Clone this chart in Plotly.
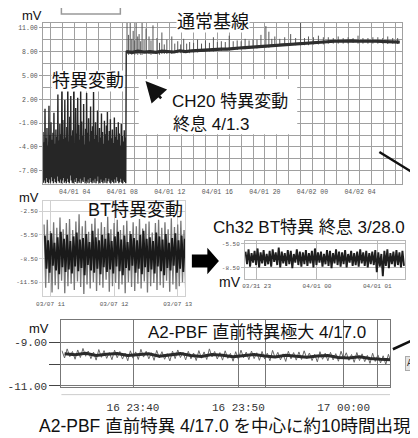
import pandas as pd
import plotly.graph_objects as go

# ---------------- data ----------------
# CH20 (panel 1): noisy anomaly before the jump (hi/lo envelope every 5 min)
ch20_pre_start = "2000-04-01 01:20"
ch20_pre_step_s = 300
ch20_pre_hi = [-2.1, -3.4, 0.8, -2.9, -1.6, -3.8, 1.2, -2.5, -0.9, -3.1,
               -2.2, 0.3, -3.6, -1.8, -2.7, 2.6, -3.2, -1.1, -2.4, 3.1,
               -0.6, -3.0, 1.9, -2.8, -1.5, 4.2, -3.3, -0.2, 2.4, -2.6,
               -1.9, 3.0, -3.5, 0.9, -2.3, 2.2, -1.2, -3.1, 3.4, -0.8,
               -2.6, 1.4, -3.7, -1.7, 2.8, -2.2, -0.4, -3.3, 1.1, -2.0,
               -1.4, 2.9, -3.0, -0.9, -2.5, 0.6, -3.4, -1.6, -2.8, 0.2,
               -2.1, -3.6, -0.7, -2.4, -1.3, 0.4, -3.2, -2.0, -0.5, -2.9,
               -1.8, -3.5, -0.3, -2.7, -1.5, -3.1, -0.9, -2.3, -3.8, -1.1,
               -2.6, -3.3, -1.9, -2.8]
ch20_pre_lo = [-8.5, -8.2, -8.6, -7.9, -8.4, -8.6, -8.1, -8.5, -7.8, -8.3,
               -8.6, -8.0, -8.4, -8.6, -7.7, -8.3, -8.5, -8.1, -8.6, -8.2,
               -7.9, -8.5, -8.3, -8.6, -8.0, -8.4, -8.6, -7.6, -8.2, -8.5,
               -8.6, -8.1, -8.4, -7.9, -8.6, -8.3, -8.5, -8.0, -8.6, -8.2,
               -8.4, -7.8, -8.6, -8.3, -8.5, -8.1, -8.6, -7.9, -8.4, -8.6,
               -8.2, -8.5, -8.0, -8.6, -8.3, -7.7, -8.5, -8.6, -8.1, -8.4,
               -8.6, -8.2, -8.5, -7.9, -8.6, -8.3, -8.0, -8.5, -8.6, -8.2,
               -8.4, -8.6, -8.1, -8.5, -7.8, -8.3, -8.6, -8.4, -8.0, -8.5,
               -8.6, -8.2, -8.4, -8.6]
# CH20 normal baseline after the jump (every 30 min)
ch20_base_start = "2000-04-01 08:20"
ch20_base_step_s = 1800
ch20_base = [8.0, 7.9, 8.05, 7.95, 8.0, 7.9, 8.05, 8.0, 7.95, 8.1,
             8.0, 8.1, 8.15, 8.1, 8.2, 8.25, 8.3, 8.3, 8.4, 8.45,
             8.5, 8.55, 8.6, 8.7, 8.75, 8.8, 8.9, 8.95, 9.0, 9.05,
             9.1, 9.1, 9.15, 9.2, 9.25, 9.3, 9.3, 9.35, 9.35, 9.3,
             9.35, 9.3, 9.3, 9.25, 9.3, 9.25, 9.2]
# CH20 spikes / hairs on the baseline
ch20_spike_times = ["2000-04-01 08:24", "2000-04-01 08:32", "2000-04-01 08:40", "2000-04-01 08:48",
                    "2000-04-01 08:55", "2000-04-01 09:03", "2000-04-01 09:10", "2000-04-01 09:18",
                    "2000-04-01 09:25", "2000-04-01 09:33", "2000-04-01 09:40", "2000-04-01 09:50",
                    "2000-04-01 10:00", "2000-04-01 10:15", "2000-04-01 10:25", "2000-04-01 10:35",
                    "2000-04-01 10:55", "2000-04-01 11:08", "2000-04-01 11:20", "2000-04-01 11:32",
                    "2000-04-01 11:45", "2000-04-01 12:10", "2000-04-01 12:25", "2000-04-01 12:40",
                    "2000-04-01 12:55", "2000-04-01 13:10", "2000-04-01 13:25", "2000-04-01 13:40",
                    "2000-04-01 14:00", "2000-04-01 14:20", "2000-04-01 14:40", "2000-04-01 15:00",
                    "2000-04-01 15:20", "2000-04-01 15:40", "2000-04-01 16:00", "2000-04-01 16:20",
                    "2000-04-01 16:40", "2000-04-01 17:00", "2000-04-01 17:20", "2000-04-01 17:40",
                    "2000-04-01 18:00", "2000-04-01 18:20", "2000-04-01 18:40", "2000-04-01 19:00",
                    "2000-04-01 19:20", "2000-04-01 19:40", "2000-04-01 20:05", "2000-04-01 20:20",
                    "2000-04-01 20:35", "2000-04-01 20:50", "2000-04-01 21:15", "2000-04-01 21:40",
                    "2000-04-01 22:10", "2000-04-01 22:35", "2000-04-01 23:00", "2000-04-01 23:20",
                    "2000-04-01 23:40", "2000-04-02 00:05", "2000-04-02 00:30", "2000-04-02 00:55",
                    "2000-04-02 01:20", "2000-04-02 01:45", "2000-04-02 02:10", "2000-04-02 02:35",
                    "2000-04-02 03:00", "2000-04-02 03:25", "2000-04-02 03:50", "2000-04-02 04:15",
                    "2000-04-02 04:40", "2000-04-02 05:05", "2000-04-02 05:30", "2000-04-02 05:55",
                    "2000-04-02 06:20", "2000-04-02 06:45", "2000-04-02 07:10"]
ch20_spike_lo = [7.7, 7.6, 7.7, 7.6, 7.7, 7.6, 7.7, 7.6, 7.7, 7.6, 7.6, 7.7,
                 7.7, 7.7, 7.6, 7.7, 7.7, 7.6, 7.7, 7.7, 7.7, 7.7, 7.8, 7.8,
                 7.8, 7.8, 7.9, 7.8, 7.9, 7.9, 8.0, 8.0, 8.0, 8.0, 8.1, 8.1,
                 8.2, 8.2, 8.2, 8.2, 8.3, 8.3, 8.4, 8.4, 8.4, 8.5, 8.5, 8.5,
                 8.6, 8.6, 8.7, 8.7, 8.8, 8.8, 8.8, 8.8, 8.8, 8.9, 8.9, 8.9,
                 9.0, 9.0, 9.0, 9.0, 9.0, 9.1, 9.0, 9.0, 9.0, 9.0, 9.0, 9.0,
                 8.95, 9.0, 8.95]
ch20_spike_hi = [11.7, 10.1, 11.7, 9.6, 10.6, 9.4, 11.7, 9.9, 10.2, 9.3, 11.7, 9.5,
                 10.9, 9.9, 9.4, 11.3, 9.7, 9.1, 10.4, 8.9, 9.5, 9.9, 9.0, 9.3,
                 8.9, 9.6, 9.0, 9.2, 9.1, 9.5, 9.0, 9.4, 9.1, 9.8, 9.2, 9.3,
                 9.2, 10.0, 9.3, 9.4, 9.3, 9.6, 9.4, 9.5, 9.5, 10.1, 11.2, 10.5,
                 9.6, 9.9, 9.6, 9.8, 10.2, 9.7, 11.7, 9.7, 9.9, 9.8, 10.0, 9.8,
                 9.8, 9.7, 9.9, 9.7, 9.8, 9.7, 10.0, 9.7, 9.7, 9.8, 9.8, 9.7,
                 9.9, 9.7, 9.7]
ch20_xticks = ["2000-04-01 04:00", "2000-04-01 08:00", "2000-04-01 12:00", "2000-04-01 16:00",
               "2000-04-01 20:00", "2000-04-02 00:00", "2000-04-02 04:00"]
ch20_xticklabels = ["04/01 04", "04/01 08", "04/01 12", "04/01 16", "04/01 20", "04/02 00", "04/02 04"]
ch20_yticks = [-7, -4, -1, 2, 5, 8, 11]
ch20_yticklabels = ["-7.00", "-4.00", "-1.00", "2.00", "5.00", "8.00", "11.00"]

# BT anomaly (panel 2), every 3 min: outer (grey) and core (dark) envelopes
bt_start = "2000-03-07 10:54"
bt_core_start = "2000-03-07 10:54:45"
bt_step_s = 180
bt_ext_hi = [-4.2, -3.6, -5.0, -3.9, -4.6, -3.3, -4.8, -4.0, -3.5, -4.9,
             -3.8, -2.9, -4.4, -3.7, -5.1, -4.1, -3.4, -4.7, -3.9, -4.5,
             -3.2, -4.8, -4.0, -3.6, -4.9, -4.3, -3.7, -5.0, -3.9, -4.4,
             -3.5, -4.7, -4.1, -3.8, -5.2, -4.0, -3.6, -4.6, -3.9, -4.8,
             -3.4, -4.5, -4.2, -3.7, -4.9]
bt_ext_lo = [-12.2, -11.6, -12.8, -11.9, -12.4, -11.3, -12.9, -12.0, -11.7, -12.5,
             -11.4, -12.1, -13.0, -11.8, -12.3, -11.5, -12.6, -11.9, -12.2, -11.2,
             -12.7, -12.0, -11.6, -12.4, -11.8, -12.9, -11.5, -12.1, -12.6, -11.7,
             -12.3, -11.4, -12.8, -12.0, -11.6, -12.5, -11.9, -12.2, -11.3, -12.7,
             -11.8, -12.4, -12.0, -11.5, -12.3]
bt_core_hi = [-5.6, -6.2, -5.3, -6.5, -5.8, -5.1, -6.0, -5.5, -6.3, -5.7,
              -5.2, -6.1, -5.9, -5.4, -6.4, -5.0, -5.8, -6.2, -5.5, -6.0,
              -5.3, -6.3, -5.7, -5.1, -6.1, -5.6, -6.4, -5.4, -5.9, -6.2,
              -5.5, -5.0, -6.0, -5.8, -6.3, -5.2, -5.7, -6.1, -5.4, -6.5,
              -5.9, -5.3, -6.2, -5.6, -6.0]
bt_core_lo = [-9.8, -10.3, -9.4, -10.0, -10.5, -9.6, -10.2, -9.9, -10.4, -9.5,
              -10.1, -9.7, -10.6, -9.3, -10.0, -10.3, -9.8, -10.5, -9.6, -10.2,
              -9.9, -10.4, -9.5, -10.1, -10.6, -9.7, -10.0, -9.4, -10.3, -9.8,
              -10.5, -9.6, -10.2, -9.9, -10.4, -9.5, -10.1, -10.6, -9.7, -10.0,
              -9.4, -10.3, -9.8, -10.2, -9.6]
bt_xticks = ["2000-03-07 11:00", "2000-03-07 12:00", "2000-03-07 13:00"]
bt_xticklabels = ["03/07 11", "03/07 12", "03/07 13"]
bt_yticks = [-11.5, -8.5, -5.5, -2.5]
bt_yticklabels = ["-11.50", "-8.50", "-5.50", "-2.50"]

# Ch32 after the end of the anomaly (panel 3), every 3 min
ch32_start = "2000-03-31 22:49"
ch32_step_s = 180
ch32_hi = [-6.5, -6.2, -6.7, -6.4, -6.1, -6.6, -6.3, -6.8, -6.4, -6.2,
           -6.6, -6.0, -6.5, -6.7, -6.3, -6.4, -6.8, -6.2, -6.5, -6.6,
           -6.3, -6.7, -6.4, -6.1, -6.6, -6.5, -6.8, -6.3, -6.4, -6.7,
           -6.2, -6.5, -6.6, -6.3, -6.8, -6.4, -6.7, -6.5, -6.2, -6.6,
           -6.4, -6.7, -6.5, -6.3, -6.6, -6.8, -6.4, -6.2, -6.7, -6.5,
           -6.3, -6.6, -6.4]
ch32_lo = [-8.1, -8.4, -7.9, -8.2, -8.5, -8.0, -8.3, -8.1, -8.4, -7.8,
           -8.2, -8.5, -8.0, -8.3, -8.1, -8.6, -7.9, -8.2, -8.4, -8.1,
           -8.3, -8.0, -8.5, -8.2, -7.9, -8.4, -8.1, -8.3, -8.6, -8.0,
           -8.2, -8.4, -8.1, -8.5, -7.9, -8.3, -8.2, -8.4, -8.0, -8.3,
           -8.5, -8.1, -8.2, -9.1, -8.4, -9.6, -8.3, -8.6, -8.1, -8.4,
           -8.2, -8.5, -8.3]
ch32_xticks = ["2000-03-31 23:00", "2000-04-01 00:00", "2000-04-01 01:00"]
ch32_xticklabels = ["03/31 23", "04/01 00", "04/01 01"]
ch32_yticks = [-8.5, -5.5]
ch32_yticklabels = ["-8.50", "-5.50"]

# A2-PBF (panel 4): fast envelope every 30 s and slow level every 1 min
a2_start = "2000-04-16 23:33:15"
a2_step_s = 30
a2_hi = [-9.38, -9.30, -9.42, -9.35, -9.28, -9.40, -9.45, -9.33, -9.38, -9.47,
         -9.36, -9.42, -9.50, -9.39, -9.44, -9.32, -9.41, -9.48, -9.37, -9.43,
         -9.52, -9.40, -9.35, -9.46, -9.41, -9.49, -9.38, -9.44, -9.30, -9.42,
         -9.47, -9.39, -9.51, -9.43, -9.36, -9.45, -9.40, -9.48, -9.42, -9.50,
         -9.37, -9.46, -9.53, -9.41, -9.47, -9.44, -9.39, -9.49, -9.55, -9.43,
         -9.50, -9.46, -9.52, -9.41, -9.48, -9.56, -9.47, -9.53, -9.60, -9.50,
         -9.58, -9.62, -9.55]
a2_lo = [-9.72, -9.66, -9.78, -9.70, -9.64, -9.75, -9.82, -9.69, -9.74, -9.80,
         -9.71, -9.77, -9.85, -9.73, -9.79, -9.68, -9.76, -9.83, -9.72, -9.78,
         -9.86, -9.75, -9.70, -9.81, -9.76, -9.84, -9.73, -9.79, -9.67, -9.77,
         -9.82, -9.74, -9.87, -9.78, -9.71, -9.80, -9.75, -9.83, -9.77, -9.85,
         -9.72, -9.81, -9.88, -9.76, -9.82, -9.79, -9.74, -9.84, -9.90, -9.78,
         -9.85, -9.81, -9.87, -9.76, -9.83, -9.92, -9.84, -9.89, -9.97, -9.88,
         -9.95, -10.02, -9.93]
a2_mid_start = "2000-04-16 23:33:30"
a2_mid_step_s = 60
a2_mid = [-9.52, -9.57, -9.50, -9.60, -9.55, -9.51, -9.61, -9.57, -9.53, -9.64,
          -9.58, -9.52, -9.61, -9.65, -9.56, -9.59, -9.66, -9.60, -9.56, -9.63,
          -9.67, -9.60, -9.64, -9.69, -9.63, -9.61, -9.70, -9.72, -9.66, -9.74,
          -9.78, -9.80]
a2_xticks = ["2000-04-16 23:40", "2000-04-16 23:50", "2000-04-17 00:00",
             "2000-04-16 23:52:35", "2000-04-17 00:03:13"]
a2_xticklabels = ["16 23:40", "16 23:50", "17 00:00", "", ""]
a2_yticks = [-11, -10, -9]
a2_yticklabels = ["-11.00", "", "-9.00"]

# ---------------- helpers ----------------
W, H = 418, 438
SANS = "Liberation Sans, Noto Sans CJK JP, sans-serif"
MONO = "Liberation Mono, DejaVu Sans Mono, monospace"


def px(x):
    return x / W


def py(y):
    return 1 - y / H


def zigzag(start, step_s, hi, lo):
    t = pd.date_range(start, periods=len(hi), freq=f"{step_s}s")
    half = pd.Timedelta(seconds=step_s / 2)
    xs, ys = [], []
    for ti, h, l in zip(t, hi, lo):
        xs += [ti, ti + half]
        ys += [h, l]
    return xs, ys


def spikes(times, lo, hi):
    xs, ys = [], []
    for t, l, h in zip(times, lo, hi):
        xs += [t, t, None]
        ys += [l, h, None]
    return xs, ys


def line(x, y, xa, ya, color, width):
    return go.Scatter(x=x, y=y, mode="lines", line=dict(color=color, width=width),
                      xaxis=xa, yaxis=ya, hoverinfo="skip")


fig = go.Figure()

# panel 1
x_pre, y_pre = zigzag(ch20_pre_start, ch20_pre_step_s, ch20_pre_hi, ch20_pre_lo)
t_base = list(pd.date_range(ch20_base_start, periods=len(ch20_base), freq=f"{ch20_base_step_s}s"))
fig.add_trace(line(x_pre + t_base, y_pre + ch20_base, "x", "y", "#262626", 1.4))
sx, sy = spikes(ch20_spike_times, ch20_spike_lo, ch20_spike_hi)
fig.add_trace(line(sx, sy, "x", "y", "#555", 1))
fig.add_trace(line(t_base, ch20_base, "x", "y", "#2e2e2e", 3.2))

# panel 2
bx, by = zigzag(bt_start, bt_step_s, bt_ext_hi, bt_ext_lo)
fig.add_trace(line(bx, by, "x2", "y2", "#777", 1.3))
cx, cy = zigzag(bt_core_start, bt_step_s, bt_core_hi, bt_core_lo)
fig.add_trace(line(cx, cy, "x2", "y2", "#1a1a1a", 1.9))

# panel 3
qx, qy = zigzag(ch32_start, ch32_step_s, ch32_hi, ch32_lo)
fig.add_trace(line(qx, qy, "x3", "y3", "#1e1e1e", 1.9))

# panel 4
ax_, ay_ = zigzag(a2_start, a2_step_s, a2_hi, a2_lo)
fig.add_trace(line(ax_, ay_, "x4", "y4", "#666", 1))
t_mid = list(pd.date_range(a2_mid_start, periods=len(a2_mid), freq=f"{a2_mid_step_s}s"))
fig.add_trace(line(t_mid, a2_mid, "x4", "y4", "#2a2a2a", 3))


def xa(domain, rng, tv, tt, anchor, size, color, grid, minor_dtick=None, standoff=0):
    d = dict(domain=domain, range=rng, type="date", tickmode="array", tickvals=tv, ticktext=tt,
             tickfont=dict(family=MONO, size=size, color=color), showgrid=True, gridcolor=grid,
             gridwidth=1, zeroline=False, showline=True, linecolor=grid, mirror=True, anchor=anchor,
             ticks="", ticklabelstandoff=standoff)
    if minor_dtick:
        d["minor"] = dict(dtick=minor_dtick, tick0="2000-04-01 00:00", showgrid=True, gridcolor=grid)
    return d


def ya(domain, rng, tv, tt, anchor, size, color, grid, ticklen=4, minor_dtick=None, tick0=0,
       tickcolor=None):
    d = dict(domain=domain, range=rng, tickmode="array", tickvals=tv, ticktext=tt,
             tickfont=dict(family=MONO, size=size, color=color), showgrid=True, gridcolor=grid,
             gridwidth=1, zeroline=False, showline=True, linecolor=grid, mirror=True, anchor=anchor,
             ticks="outside", ticklen=ticklen, tickcolor=tickcolor or grid, tickwidth=1)
    if minor_dtick:
        d["minor"] = dict(tickmode="linear", tick0=tick0, dtick=minor_dtick, showgrid=True,
                          gridcolor=grid)
    return d


layout = dict(
    width=W, height=H, autosize=False, margin=dict(l=0, r=0, t=0, b=0),
    paper_bgcolor="white", plot_bgcolor="white", showlegend=False,
    xaxis=xa([px(29), px(400)], ["2000-04-01 01:20", "2000-04-02 07:30"], ch20_xticks,
             ch20_xticklabels, "y", 6.5, "#555", "#a0a0a0", minor_dtick=3600000, standoff=2),
    yaxis=ya([py(178), py(15)], [-8.6, 11.62], ch20_yticks, ch20_yticklabels, "x", 6.5, "#555",
             "#a0a0a0", ticklen=3, minor_dtick=1.5, tick0=-7),
    xaxis2=xa([px(29), px(176)], ["2000-03-07 10:53", "2000-03-07 13:07"], bt_xticks,
              bt_xticklabels, "y2", 6, "#555", "#d0d0d0", standoff=2),
    yaxis2=ya([py(292), py(196)], [-13.25, -1.25], bt_yticks, bt_yticklabels, "x2", 6, "#555",
              "#d0d0d0", ticklen=3),
    xaxis3=xa([px(238), px(404)], ["2000-03-31 22:48:30", "2000-04-01 01:28"], ch32_xticks,
              ch32_xticklabels, "y3", 6, "#555", "#b8b8b8", standoff=1),
    yaxis3=ya([py(275), py(236)], [-10, -5.125], ch32_yticks, ch32_yticklabels, "x3", 6, "#555",
              "#b8b8b8", ticklen=3),
    xaxis4=xa([px(48), px(388)], ["2000-04-16 23:33:12", "2000-04-17 00:04:24"], a2_xticks,
              a2_xticklabels, "y4", 11, "#333", "#777", standoff=10),
    yaxis4=ya([py(384), py(316)], [-11.05, -7.95], a2_yticks, a2_yticklabels, "x4", 11, "#333",
              "#777", ticklen=11, tickcolor="#444"),
)
fig.update_layout(**layout)


def ann(text, x, y, size=18, xanchor="left", bg=None, **kw):
    d = dict(text=text, x=px(x), y=py(y), xref="paper", yref="paper", xanchor=xanchor,
             yanchor="middle", showarrow=False, font=dict(family=SANS, size=size, color="#111"),
             borderpad=0)
    if bg:
        d["bgcolor"] = bg
    d.update(kw)
    return d


annotations = [
    ann("mV", 18, 8, 13, "center"),
    ann("通常基線", 205, 14, 18, "center", bg="white"),
    ann("特異変動", 37, 74, 18, "left", bg="white"),
    dict(text="", x=px(135), y=py(74), xref="paper", yref="paper", ax=17, ay=19,
         showarrow=True, arrowhead=2, arrowsize=1.6, arrowwidth=2.6, arrowcolor="#111"),
    ann("CH20 特異変動", 161, 95, 17, "left"),
    ann("終息 4/1.3", 162, 118, 17, "left"),
    ann("mV", 15, 192, 13, "center"),
    ann("BT特異変動", 125, 205, 18, "center"),
    ann("Ch32 BT特異 終息 3/28.0", 204, 223, 17, "left"),
    ann("mV", 222, 278, 14, "center"),
    ann("mV", 25, 325, 13, "center"),
    ann("A2-PBF 直前特異極大 4/17.0", 137, 329, 17, "left"),
    ann("A2-PBF 直前特異 4/17.0 を中心に約10時間出現", 217, 424, 17.5, "center"),
    dict(text="A2", x=px(404), y=py(360), xref="paper", yref="paper", xanchor="left",
         yanchor="middle", showarrow=False, font=dict(family=MONO, size=10, color="#333"),
         bgcolor="#e4e4e4", bordercolor="#aaa", borderwidth=1, borderpad=1),
]


def P(x, y):
    return f"{px(x)},{py(y)}"


shapes = [
    dict(type="rect", xref="paper", yref="paper", x0=px(48), x1=px(109), y0=py(6), y1=py(-5),
         line=dict(color="#999", width=1.5), fillcolor="rgba(0,0,0,0)"),
    dict(type="rect", xref="paper", yref="paper", x0=px(128), x1=px(292), y0=py(128), y1=py(72),
         line=dict(width=0), fillcolor="white", layer="above"),
    dict(type="path", xref="paper", yref="paper", layer="above",
         path=f"M {P(183, 250)} L {P(199, 250)} L {P(199, 243)} L {P(211, 256.5)} "
              f"L {P(199, 270)} L {P(199, 263)} L {P(183, 263)} Z",
         fillcolor="black", line=dict(width=0)),
    dict(type="line", xref="paper", yref="paper", x0=px(377), y0=py(146), x1=px(420), y1=py(172),
         line=dict(color="#111", width=2.5)),
    dict(type="line", xref="paper", yref="paper", x0=px(412), y0=py(258), x1=px(420), y1=py(258),
         line=dict(color="#111", width=2.5)),
    dict(type="line", xref="paper", yref="paper", x0=px(391), y0=py(346), x1=px(420), y1=py(333),
         line=dict(color="#111", width=2.5)),
    dict(type="line", xref="paper", yref="paper", x0=px(48), y0=py(392), x1=px(388), y1=py(392),
         line=dict(color="#ccc", width=1)),
]

fig.update_layout(annotations=annotations, shapes=shapes)
fig.write_html("out.html")
